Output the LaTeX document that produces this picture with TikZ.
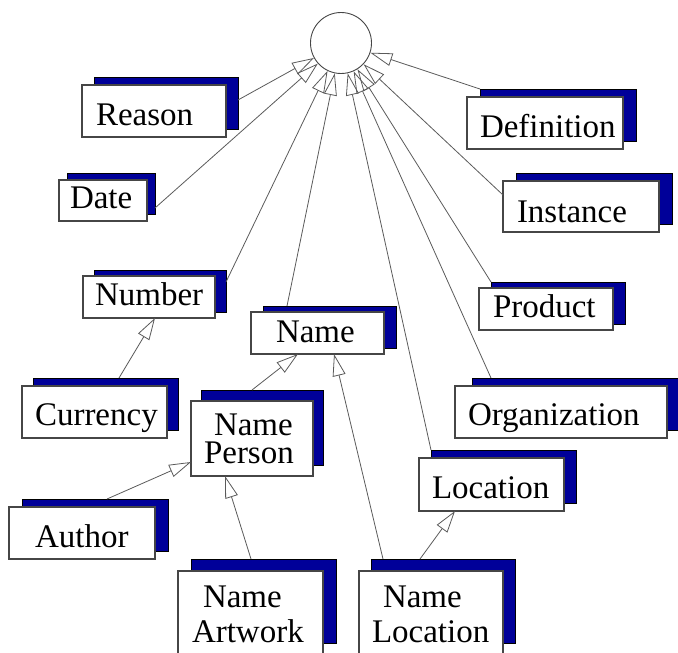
\documentclass[tikz,border=0pt]{standalone}
\usepackage{fontspec}
\setmainfont{Liberation Serif}
\usetikzlibrary{arrows.meta}
\definecolor{navy}{RGB}{0,0,153}
\definecolor{edge}{RGB}{70,70,70}
\definecolor{wire}{RGB}{90,90,90}
\tikzset{
  shadowbox/.style={fill=navy, draw=black, line width=0.8pt, inner sep=0pt, outer sep=0pt, anchor=north west},
  whitebox/.style={fill=white, draw=edge, line width=1.1pt, inner sep=0pt, outer sep=0pt, anchor=north west},
  lbl/.style={inner sep=0pt, outer sep=0pt, anchor=base west, font=\fontsize{33}{36}\selectfont},
  isa/.style={draw=wire, line width=0.8pt, -{Triangle[open, length=22pt, width=13pt, line width=0.8pt]}},
}
% name, x1, y1, x2, y2 (white box, pixel coords), dx, dy (shadow offset right / up)
\newcommand\umlbox[7]{%
  \node[shadowbox, minimum width={(#4-#2)*1pt}, minimum height={(#5-#3)*1pt}] (#1S) at ({#2+#6},{#3-#7}) {};
  \node[whitebox, minimum width={(#4-#2)*1pt}, minimum height={(#5-#3)*1pt}] (#1) at (#2,#3) {};
}
\begin{document}
\begin{tikzpicture}[x=1pt, y=-1pt]
\useasboundingbox (0,0) rectangle (678,653);

\node[circle, draw=edge, line width=0.9pt, minimum size=61pt, inner sep=0pt] (circ) at (341,43) {};

\umlbox{reason}{82}{85}{226}{137}{12}{8}
\umlbox{date}{59}{180}{147}{221}{8}{7}
\umlbox{definition}{467}{97}{623}{149}{13}{8}
\umlbox{instance}{503}{181}{659}{232}{13}{8}
\umlbox{number}{83}{276}{215}{318}{11}{6}
\umlbox{name}{251}{312}{384}{354}{12}{6}
\umlbox{currency}{22}{386}{167}{438}{11}{8}
\umlbox{np}{191}{401}{313}{476}{10}{11}
\umlbox{product}{479}{288}{613}{330}{12}{6}
\umlbox{org}{455}{386}{667}{438}{17}{8}
\umlbox{location}{419}{458}{564}{511}{12}{8}
\umlbox{author}{9}{507}{155}{559}{13}{8}
\umlbox{na}{178}{571}{323}{655}{13}{12}
\umlbox{nl}{359}{571}{503}{655}{12}{12}

\node[lbl] (reasonT) at (96,125) {Reason};
\node[lbl] (dateT) at (70,208) {Date};
\node[lbl] (definitionT) at (480,137) {Definition};
\node[lbl] (instanceT) at (517,222) {Instance};
\node[lbl] (numberT) at (95,305) {Number};
\node[lbl] (nameT) at (276,342) {Name};
\node[lbl] (currencyT) at (35,425) {Currency};
\node[lbl] (productT) at (493,317) {Product};
\node[lbl] (orgT) at (468,425) {Organization};
\node[lbl] (npTa) at (214,435) {Name};
\node[lbl] (npTb) at (204,463) {Person};
\node[lbl] (locationT) at (432,498) {Location};
\node[lbl] (authorT) at (35,547) {Author};
\node[lbl] (naTa) at (203,607) {Name};
\node[lbl] (naTb) at (192,642) {Artwork};
\node[lbl] (nlTa) at (383,607) {Name};
\node[lbl] (nlTb) at (372,642) {Location};

% connectors to the root circle
\draw[isa] ([yshift=3pt]reasonS.east) -- (circ);
\draw[isa] ([yshift=6pt]dateS.south east) -- (circ);
\draw[isa] ([yshift=-12pt]numberS.north east) -- (circ);
\draw[isa] ([xshift=24pt]nameS.north west) -- (circ);
\draw[isa] (locationS.north west) -- (circ);
\draw[isa] ([xshift=19pt]orgS.north west) -- (circ);
\draw[isa] (productS.north west) -- (circ);
\draw[isa] ([yshift=-14pt]instance.north west) -- (circ);
\draw[isa] (definitionS.north west) -- (circ);

% other connectors
\draw[isa] ([xshift=86pt]currencyS.north west) -- ([xshift=72pt]number.south west);
\draw[isa] ([xshift=51pt]npS.north west) -- ([xshift=47pt]name.south west);
\draw[isa] ([xshift=12pt]nlS.north west) -- ([xshift=83pt]name.south west);
\draw[isa] ([xshift=85pt]authorS.north west) -- ([yshift=-61pt]np.north west);
\draw[isa] ([xshift=60pt]naS.north west) -- ([xshift=34pt]np.south west);
\draw[isa] ([xshift=49pt]nlS.north west) -- ([xshift=36pt]location.south west);
\end{tikzpicture}
\end{document}
